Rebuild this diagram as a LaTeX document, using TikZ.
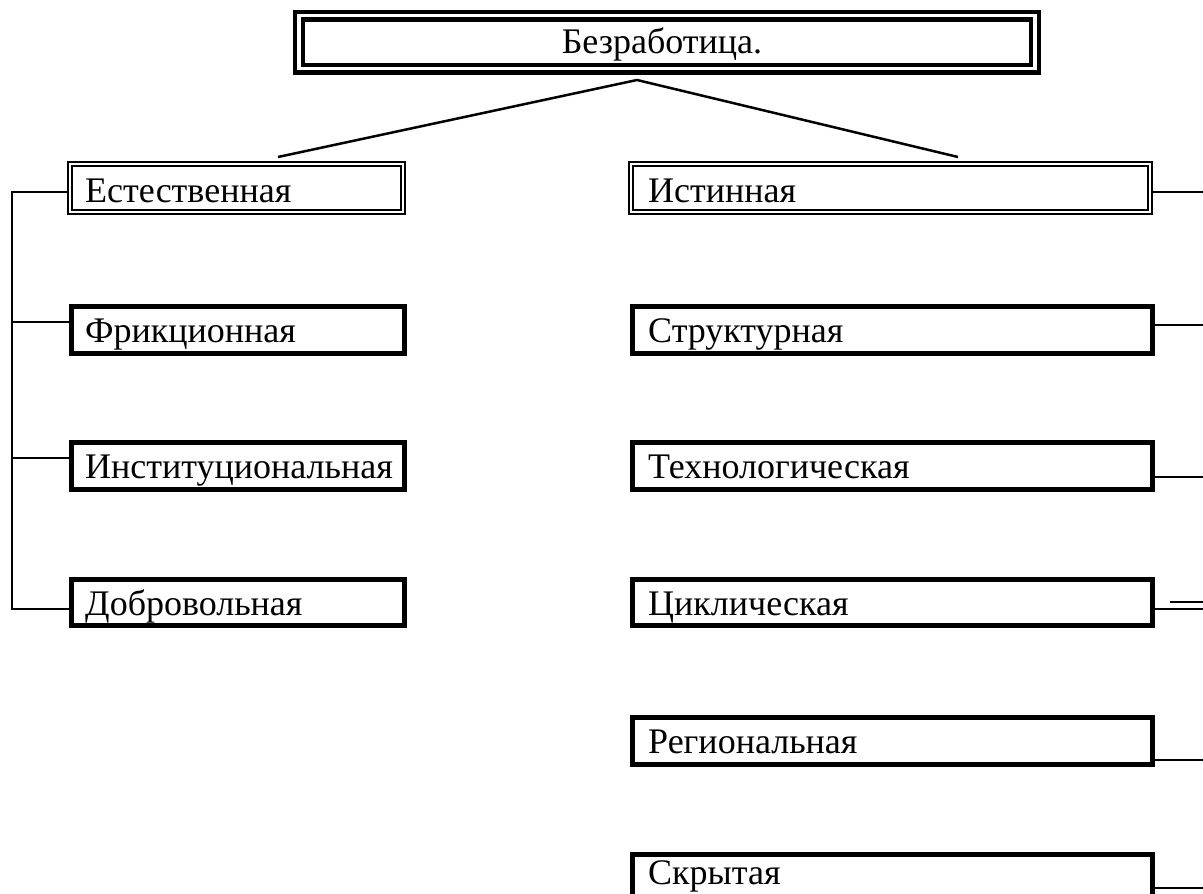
\documentclass[tikz,border=0pt]{standalone}
\usepackage{fontspec}
\setmainfont{Liberation Serif}
\begin{document}
\begin{tikzpicture}[x=1pt,y=-1pt,
  sbox/.style={draw, rectangle, line width=4.5pt, inner sep=0pt, anchor=north west},
  dbox/.style={draw, rectangle, double, line width=2pt, double distance=2.2pt, inner sep=0pt, anchor=north west},
  tbox/.style={draw, rectangle, double, line width=4.2pt, double distance=3.5pt, inner sep=0pt, anchor=north west},
  txt/.style={inner sep=0pt, font=\fontsize{36}{40}\selectfont},
  lbl/.style={txt, anchor=base west},
  conn/.style={line width=2pt},
  ray/.style={line width=2.5pt}]
\useasboundingbox (0,0) rectangle (1203,894);

% title box
\node[tbox, minimum width=736, minimum height=53] (top) at (297,13.5) {};
\node[txt, anchor=base] (toptxt) at (662,53) {Безработица.};

% left column
\node[dbox, minimum width=333, minimum height=48] (est) at (69,163) {};
\node[lbl] (esttxt) at (85,202) {Естественная};
\node[sbox, minimum width=333, minimum height=47] (fr) at (69,304) {};
\node[lbl] (frtxt) at (85,342) {Фрикционная};
\node[sbox, minimum width=333, minimum height=47] (inst) at (69,440) {};
\node[lbl] (insttxt) at (85,478) {Институциональная};
\node[sbox, minimum width=333, minimum height=46] (dob) at (69,577) {};
\node[lbl] (dobtxt) at (85,615) {Добровольная};

% right column
\node[dbox, minimum width=519, minimum height=48] (ist) at (630,163) {};
\node[lbl] (isttxt) at (648,202) {Истинная};
\node[sbox, minimum width=520, minimum height=47] (str) at (630,304) {};
\node[lbl] (strtxt) at (648,342) {Структурная};
\node[sbox, minimum width=520, minimum height=47] (tech) at (630,440) {};
\node[lbl] (techtxt) at (648,478) {Технологическая};
\node[sbox, minimum width=520, minimum height=46] (cyc) at (630,577) {};
\node[lbl] (cyctxt) at (648,615) {Циклическая};
\node[sbox, minimum width=520, minimum height=47] (reg) at (630,715) {};
\node[lbl] (regtxt) at (648,753) {Региональная};
\node[sbox, minimum width=520, minimum height=47] (skr) at (630,852) {};
\node[lbl] (skrtxt) at (648,884) {Скрытая};

% rays from the title
\coordinate (peak) at (637,80);
\coordinate (rayL) at (278,157);
\coordinate (rayR) at (958,157);
\draw[ray] (rayL) -- (peak) -- (rayR);

% left bus
\coordinate (b1) at (12,192);
\coordinate (b2) at (12,322);
\coordinate (b3) at (12,458);
\coordinate (b4) at (12,609);
\draw[conn] (b1 -| est.west) -- (b1) -- (b4) -- (b4 -| dob.west);
\draw[conn] (b2) -- (b2 -| fr.west);
\draw[conn] (b3) -- (b3 -| inst.west);

% right stubs
\coordinate (e1) at (1203,192);
\coordinate (e2) at (1203,325);
\coordinate (e3) at (1203,477);
\coordinate (e4) at (1203,609);
\coordinate (e4b) at (1203,602);
\coordinate (e5) at (1203,760);
\coordinate (e6) at (1203,888);
\draw[conn] (e1 -| ist.east) -- (e1);
\draw[conn] (e2 -| str.east) -- (e2);
\draw[conn] (e3 -| tech.east) -- (e3);
\draw[conn] (e4 -| cyc.east) -- (e4);
\draw[conn] ([xshift=15pt]e4b -| cyc.east) -- (e4b);
\draw[conn] (e5 -| reg.east) -- (e5);
\draw[conn] (e6 -| skr.east) -- (e6);
\end{tikzpicture}
\end{document}
